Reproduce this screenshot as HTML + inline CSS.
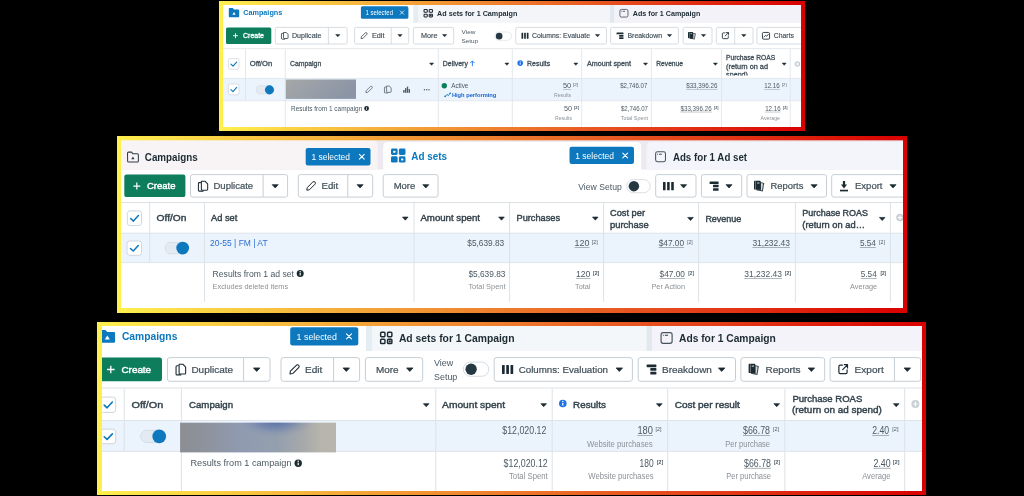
<!DOCTYPE html>
<html><head><meta charset="utf-8"><title>Ads Manager results</title>
<style>html,body{margin:0;padding:0;background:#000;overflow:hidden}svg{display:block;font-family:"Liberation Sans",sans-serif}</style></head>
<body>
<svg width="1024" height="496" viewBox="0 0 1024 496">
<defs>
<linearGradient id="g1" gradientUnits="userSpaceOnUse" x1="219" y1="0" x2="805" y2="0"><stop offset="0" stop-color="#fff04e"/><stop offset="0.25" stop-color="#f6b43c"/><stop offset="0.5" stop-color="#ee7a2c"/><stop offset="0.75" stop-color="#e33c18"/><stop offset="1" stop-color="#d90000"/></linearGradient>
<linearGradient id="g2" gradientUnits="userSpaceOnUse" x1="117" y1="0" x2="907" y2="0"><stop offset="0" stop-color="#fff04e"/><stop offset="0.25" stop-color="#f6b43c"/><stop offset="0.5" stop-color="#ee7a2c"/><stop offset="0.75" stop-color="#e33c18"/><stop offset="1" stop-color="#d90000"/></linearGradient>
<linearGradient id="g3" gradientUnits="userSpaceOnUse" x1="97" y1="0" x2="926" y2="0"><stop offset="0" stop-color="#fff04e"/><stop offset="0.25" stop-color="#f6b43c"/><stop offset="0.5" stop-color="#ee7a2c"/><stop offset="0.75" stop-color="#e33c18"/><stop offset="1" stop-color="#d90000"/></linearGradient>
<linearGradient id="blur1" x1="0" y1="0" x2="1" y2="0.35"><stop offset="0" stop-color="#a8a9a5"/><stop offset="0.2" stop-color="#a0a4a8"/><stop offset="0.55" stop-color="#979ea8"/><stop offset="1" stop-color="#8c95a5"/></linearGradient>
<linearGradient id="blur3" x1="0" y1="0" x2="1" y2="0"><stop offset="0" stop-color="#8b8e93"/><stop offset="0.15" stop-color="#8d939c"/><stop offset="0.4" stop-color="#909bb1"/><stop offset="0.62" stop-color="#949fae"/><stop offset="0.8" stop-color="#a8aaaa"/><stop offset="0.9" stop-color="#b6b4ac"/><stop offset="1" stop-color="#b8b5ac"/></linearGradient>
<radialGradient id="blur3v" gradientUnits="userSpaceOnUse" cx="276" cy="420" r="40" gradientTransform="translate(0 420) scale(1 0.45) translate(0 -420)"><stop offset="0" stop-color="#4861a4" stop-opacity="0.85"/><stop offset="0.5" stop-color="#5f76ae" stop-opacity="0.5"/><stop offset="1" stop-color="#8f9bb1" stop-opacity="0"/></radialGradient>
<clipPath id="c1"><rect x="223" y="5" width="578" height="122"/></clipPath>
<clipPath id="c2"><rect x="121" y="140.5" width="782" height="167.5"/></clipPath>
<clipPath id="c3"><rect x="102" y="326" width="820" height="165"/></clipPath>
<filter id="soft" x="-2%" y="-2%" width="104%" height="104%"><feGaussianBlur stdDeviation="0.35"/></filter>
</defs>
<rect width="1024" height="496" fill="#000"/>
<rect x="219" y="1" width="586" height="130" fill="url(#g1)"/>
<rect x="223" y="5" width="578" height="122" fill="#fff"/>
<g clip-path="url(#c1)"><g filter="url(#soft)">
<rect x="223.00" y="5.00" width="578.00" height="17.80" fill="#f3f5f8" />
<rect x="223.00" y="5.00" width="190.40" height="17.80" fill="#fff" />
<rect x="413.40" y="5.00" width="4.80" height="17.80" fill="#e4edf2" />
<rect x="610.00" y="5.00" width="4.30" height="17.80" fill="#e3e8ef" />
<rect x="614.30" y="5.00" width="186.70" height="17.80" fill="#f3f2f8" />
<path d="M229.63 7.90h3.12l1.25 1.49h4.37q0.83 0 0.83 0.93v5.95q0 0.93 -0.83 0.93h-8.74q-0.83 0 -0.83 -0.93v-7.44q0 -0.93 0.83 -0.93z" fill="#0a78be"/>
<path d="M234.00 11.90L235.66 14.78H232.34Z" fill="#fff"/>
<text x="243.20" y="15.19" font-size="7.2" fill="#0a78be" font-weight="bold" textLength="39.10" lengthAdjust="spacingAndGlyphs">Campaigns</text>
<rect x="360.90" y="6.30" width="47.50" height="12.50" fill="#0a78be" rx="1.6" />
<text x="365.50" y="14.84" font-size="6.6" fill="#fff" textLength="27.50" lengthAdjust="spacingAndGlyphs">1 selected</text>
<path d="M400.30 10.90L403.70 14.30M403.70 10.90L400.30 14.30" stroke="#fff" stroke-width="0.8" stroke-linecap="round"/>
<rect x="424.05" y="9.55" width="3.23" height="2.73" rx="0.61" fill="none" stroke="#1c2b33" stroke-width="1.09"/>
<rect x="424.05" y="14.22" width="3.23" height="2.73" rx="0.61" fill="none" stroke="#1c2b33" stroke-width="1.09"/>
<rect x="429.22" y="9.55" width="3.23" height="2.73" rx="0.61" fill="none" stroke="#1c2b33" stroke-width="1.09"/>
<rect x="429.22" y="14.22" width="3.23" height="2.73" rx="0.61" fill="none" stroke="#1c2b33" stroke-width="1.09"/>
<rect x="430.06" y="14.90" width="1.56" height="1.38" fill="#1c2b33"/>
<text x="437.10" y="15.89" font-size="7.2" fill="#1c2b33" font-weight="bold" textLength="80.30" lengthAdjust="spacingAndGlyphs">Ad sets for 1 Campaign</text>
<rect x="619.92" y="9.42" width="8.05" height="7.65" rx="1.51" fill="none" stroke="#46535c" stroke-width="0.85"/>
<line x1="621.19" y1="11.29" x2="621.90" y2="11.29" stroke="#46535c" stroke-width="0.85"/>
<line x1="622.70" y1="11.29" x2="625.02" y2="11.29" stroke="#46535c" stroke-width="0.85"/>
<text x="632.80" y="15.89" font-size="7.2" fill="#1c2b33" font-weight="bold" textLength="67.50" lengthAdjust="spacingAndGlyphs">Ads for 1 Campaign</text>
<rect x="226.00" y="27.40" width="45.30" height="16.60" fill="#0b7d5c" rx="1.6" />
<path d="M233 35.7h5M235.5 33.2v5" stroke="#fff" stroke-width="0.9"/>
<text x="243.00" y="38.11" font-size="6.7" fill="#fff" stroke="#fff" stroke-width="0.30" textLength="21.00" lengthAdjust="spacingAndGlyphs">Create</text>
<rect x="275.30" y="27.40" width="71.80" height="16.60" fill="#fff" rx="1.6" stroke="#c6ced4" stroke-width="0.7" />
<line x1="328.40" y1="27.40" x2="328.40" y2="44.00" stroke="#c6ced4" stroke-width="0.7"/>
<path d="M283.55 32.46h2.70l1.80 1.82v3.65q0 0.61 -0.60 0.61h-3.30q-0.60 0 -0.60 -0.61z" fill="none" stroke="#1c2b33" stroke-width="0.75" stroke-linejoin="round"/>
<path d="M282.95 33.37h-0.90q-0.60 0 -0.60 0.61v4.56q0 0.61 0.60 0.61h2.70" fill="none" stroke="#1c2b33" stroke-width="0.75" stroke-linejoin="round" stroke-linecap="round"/>
<text x="292.00" y="38.11" font-size="6.7" fill="#414f58" stroke="#414f58" stroke-width="0.15" textLength="29.50" lengthAdjust="spacingAndGlyphs">Duplicate</text>
<path d="M335.70 34.55H339.90L337.80 36.85Z" fill="#1c2b33" stroke="#1c2b33" stroke-width="0.50" stroke-linejoin="round"/>
<rect x="354.60" y="27.40" width="54.10" height="16.60" fill="#fff" rx="1.6" stroke="#c6ced4" stroke-width="0.7" />
<line x1="391.20" y1="27.40" x2="391.20" y2="44.00" stroke="#c6ced4" stroke-width="0.7"/>
<path d="M361.06 38.64L361.34 36.82L365.26 32.90Q366.10 32.20 366.94 33.04Q367.50 33.74 366.80 34.44L362.88 38.36Z" fill="none" stroke="#1c2b33" stroke-width="0.70" stroke-linejoin="round"/>
<text x="372.00" y="38.11" font-size="6.7" fill="#414f58" stroke="#414f58" stroke-width="0.15" textLength="12.50" lengthAdjust="spacingAndGlyphs">Edit</text>
<path d="M397.90 34.55H402.10L400.00 36.85Z" fill="#1c2b33" stroke="#1c2b33" stroke-width="0.50" stroke-linejoin="round"/>
<rect x="413.40" y="27.40" width="40.30" height="16.60" fill="#fff" rx="1.6" stroke="#c6ced4" stroke-width="0.7" />
<text x="421.00" y="38.11" font-size="6.7" fill="#414f58" stroke="#414f58" stroke-width="0.15" textLength="16.50" lengthAdjust="spacingAndGlyphs">More</text>
<path d="M442.50 34.55H446.70L444.60 36.85Z" fill="#1c2b33" stroke="#1c2b33" stroke-width="0.50" stroke-linejoin="round"/>
<text x="461.50" y="33.53" font-size="6.2" fill="#4b5a63" textLength="14.00" lengthAdjust="spacingAndGlyphs">View</text>
<text x="461.50" y="42.63" font-size="6.2" fill="#4b5a63" textLength="16.50" lengthAdjust="spacingAndGlyphs">Setup</text>
<rect x="494.60" y="32.00" width="16.90" height="8.30" fill="#fff" rx="4.149999999999999" stroke="#d5dce2" stroke-width="0.6" />
<circle cx="499.17" cy="36.15" r="3.32" fill="#283943"/>
<rect x="515.70" y="27.40" width="90.80" height="16.60" fill="#fff" rx="1.6" stroke="#c6ced4" stroke-width="0.7" />
<rect x="521.50" y="32.80" width="1.68" height="6.00" rx="0.25" fill="#1c2b33"/>
<rect x="524.16" y="32.80" width="1.68" height="6.00" rx="0.25" fill="#1c2b33"/>
<rect x="526.82" y="32.80" width="1.68" height="6.00" rx="0.25" fill="#1c2b33"/>
<text x="532.00" y="38.11" font-size="6.7" fill="#414f58" stroke="#414f58" stroke-width="0.15" textLength="58.00" lengthAdjust="spacingAndGlyphs">Columns: Evaluate</text>
<path d="M595.40 34.55H599.60L597.50 36.85Z" fill="#1c2b33" stroke="#1c2b33" stroke-width="0.50" stroke-linejoin="round"/>
<rect x="610.60" y="27.40" width="67.80" height="16.60" fill="#fff" rx="1.6" stroke="#c6ced4" stroke-width="0.7" />
<rect x="616.50" y="32.60" width="7.00" height="1.73" rx="0.35" fill="#1c2b33"/>
<rect x="619.16" y="34.94" width="4.34" height="1.73" rx="0.35" fill="#1c2b33"/>
<rect x="619.16" y="37.27" width="4.34" height="1.73" rx="0.35" fill="#1c2b33"/>
<text x="627.50" y="38.11" font-size="6.7" fill="#414f58" stroke="#414f58" stroke-width="0.15" textLength="34.50" lengthAdjust="spacingAndGlyphs">Breakdown</text>
<path d="M667.40 34.55H671.60L669.50 36.85Z" fill="#1c2b33" stroke="#1c2b33" stroke-width="0.50" stroke-linejoin="round"/>
<rect x="683.10" y="27.40" width="28.90" height="16.60" fill="#fff" rx="1.6" stroke="#c6ced4" stroke-width="0.7" />
<path d="M692.00 32.76L695.84 33.52L694.72 39.60L689.60 38.69Z" fill="#1c2b33" opacity="0.85"/>
<path d="M693.28 33.67L694.88 33.98L694.08 38.69L693.28 38.54Z" fill="#fff" opacity="0.8"/>
<rect x="688.00" y="32.00" width="5.12" height="6.23" rx="0.64" fill="#1c2b33"/>
<rect x="689.04" y="32.30" width="0.44" height="5.62" fill="#fff" opacity="0.6"/>
<rect x="690.40" y="33.06" width="1.76" height="1.06" fill="#fff" opacity="0.55"/>
<path d="M701.40 34.55H705.60L703.50 36.85Z" fill="#1c2b33" stroke="#1c2b33" stroke-width="0.50" stroke-linejoin="round"/>
<rect x="716.30" y="27.40" width="36.70" height="16.60" fill="#fff" rx="1.6" stroke="#c6ced4" stroke-width="0.7" />
<line x1="734.70" y1="27.40" x2="734.70" y2="44.00" stroke="#c6ced4" stroke-width="0.7"/>
<path d="M724.97 32.90H723.24q-0.86 0 -0.86 0.84v4.06q0 0.84 0.86 0.84h4.18q0.86 0 0.86 -0.84V36.12" fill="none" stroke="#1c2b33" stroke-width="0.86" stroke-linecap="round"/>
<path d="M725.11 35.98L728.42 32.76M726.26 32.62H728.57V34.86" fill="none" stroke="#1c2b33" stroke-width="0.86" stroke-linecap="round" stroke-linejoin="round"/>
<path d="M741.70 34.55H745.90L743.80 36.85Z" fill="#1c2b33" stroke="#1c2b33" stroke-width="0.50" stroke-linejoin="round"/>
<rect x="756.90" y="27.40" width="55.10" height="16.60" fill="#fff" rx="1.6" stroke="#c6ced4" stroke-width="0.7" />
<rect x="762.44" y="32.44" width="7.12" height="6.72" rx="1.12" fill="none" stroke="#1c2b33" stroke-width="0.88"/>
<path d="M763.92 37.02L765.52 35.34L766.64 36.26L768.24 34.43" fill="none" stroke="#1c2b33" stroke-width="0.88" stroke-linecap="round" stroke-linejoin="round"/>
<text x="773.80" y="38.11" font-size="6.7" fill="#414f58" stroke="#414f58" stroke-width="0.15" textLength="20.20" lengthAdjust="spacingAndGlyphs">Charts</text>
<line x1="223.00" y1="48.60" x2="801.00" y2="48.60" stroke="#dde2e6" stroke-width="0.8"/>
<rect x="223.00" y="78.40" width="578.00" height="22.40" fill="#ebf3fd" />
<line x1="223.00" y1="78.40" x2="801.00" y2="78.40" stroke="#dde2e6" stroke-width="0.7"/>
<line x1="223.00" y1="100.80" x2="801.00" y2="100.80" stroke="#dde2e6" stroke-width="0.7"/>
<line x1="245.50" y1="49.00" x2="245.50" y2="100.80" stroke="#dde2e6" stroke-width="0.8"/>
<line x1="285.30" y1="49.00" x2="285.30" y2="127.00" stroke="#dde2e6" stroke-width="0.8"/>
<line x1="438.30" y1="49.00" x2="438.30" y2="127.00" stroke="#dde2e6" stroke-width="0.8"/>
<line x1="512.30" y1="49.00" x2="512.30" y2="127.00" stroke="#dde2e6" stroke-width="0.8"/>
<line x1="581.70" y1="49.00" x2="581.70" y2="127.00" stroke="#dde2e6" stroke-width="0.8"/>
<line x1="651.40" y1="49.00" x2="651.40" y2="127.00" stroke="#dde2e6" stroke-width="0.8"/>
<line x1="721.60" y1="49.00" x2="721.60" y2="127.00" stroke="#dde2e6" stroke-width="0.8"/>
<line x1="790.20" y1="49.00" x2="790.20" y2="127.00" stroke="#dde2e6" stroke-width="0.8"/>
<rect x="228.40" y="58.60" width="10.60" height="10.70" fill="#fff" rx="1.9079999999999988" stroke="#ccd4da" stroke-width="0.6889999999999996" />
<path d="M230.94 64.16L232.96 66.09L236.67 62.02" fill="none" stroke="#0a78be" stroke-width="1.11" stroke-linecap="round" stroke-linejoin="round"/>
<text x="249.80" y="66.30" font-size="6.95" fill="#414f58" stroke="#414f58" stroke-width="0.31" textLength="22.40" lengthAdjust="spacingAndGlyphs">Off/On</text>
<text x="290.10" y="66.30" font-size="6.95" fill="#414f58" stroke="#414f58" stroke-width="0.31" textLength="31.10" lengthAdjust="spacingAndGlyphs">Campaign</text>
<path d="M429.60 63.05H433.60L431.60 65.35Z" fill="#1c2b33" stroke="#1c2b33" stroke-width="0.48" stroke-linejoin="round"/>
<text x="442.80" y="66.30" font-size="6.95" fill="#414f58" stroke="#414f58" stroke-width="0.31" textLength="25.10" lengthAdjust="spacingAndGlyphs">Delivery</text>
<path d="M472.4 66.2V61M470.3 63.1L472.4 60.9L474.5 63.1" fill="none" stroke="#1877f2" stroke-width="0.9"/>
<path d="M504.90 63.05H508.90L506.90 65.35Z" fill="#1c2b33" stroke="#1c2b33" stroke-width="0.48" stroke-linejoin="round"/>
<circle cx="520.20" cy="63.10" r="2.80" fill="#1a73e8"/>
<rect x="519.75" y="62.68" width="0.90" height="1.96" fill="#fff"/>
<circle cx="520.20" cy="61.70" r="0.56" fill="#fff"/>
<text x="527.10" y="66.30" font-size="6.95" fill="#414f58" stroke="#414f58" stroke-width="0.31" textLength="23.10" lengthAdjust="spacingAndGlyphs">Results</text>
<path d="M573.80 63.05H577.80L575.80 65.35Z" fill="#1c2b33" stroke="#1c2b33" stroke-width="0.48" stroke-linejoin="round"/>
<text x="587.00" y="66.30" font-size="6.95" fill="#414f58" stroke="#414f58" stroke-width="0.31" textLength="44.00" lengthAdjust="spacingAndGlyphs">Amount spent</text>
<path d="M643.50 63.05H647.50L645.50 65.35Z" fill="#1c2b33" stroke="#1c2b33" stroke-width="0.48" stroke-linejoin="round"/>
<text x="656.30" y="66.30" font-size="6.95" fill="#414f58" stroke="#414f58" stroke-width="0.31" textLength="26.70" lengthAdjust="spacingAndGlyphs">Revenue</text>
<path d="M713.40 63.05H717.40L715.40 65.35Z" fill="#1c2b33" stroke="#1c2b33" stroke-width="0.48" stroke-linejoin="round"/>
<text x="726.10" y="60.20" font-size="6.95" fill="#414f58" stroke="#414f58" stroke-width="0.31" textLength="49.00" lengthAdjust="spacingAndGlyphs">Purchase ROAS</text>
<text x="726.10" y="68.60" font-size="6.95" fill="#414f58" stroke="#414f58" stroke-width="0.31" textLength="41.90" lengthAdjust="spacingAndGlyphs">(return on ad</text>
<clipPath id="c1h"><rect x="722" y="49" width="68" height="26.6"/></clipPath><g clip-path="url(#c1h)">
<text x="726.10" y="77.30" font-size="6.95" fill="#414f58" stroke="#414f58" stroke-width="0.31" textLength="21.90" lengthAdjust="spacingAndGlyphs">spend)</text>
</g>
<path d="M782.20 63.05H786.20L784.20 65.35Z" fill="#1c2b33" stroke="#1c2b33" stroke-width="0.48" stroke-linejoin="round"/>
<circle cx="797.40" cy="64.00" r="2.80" fill="#c9cfd4"/>
<path d="M795.86 64.00H798.94M797.40 62.46V65.54" stroke="#fff" stroke-width="0.84"/>
<rect x="228.40" y="84.00" width="10.60" height="10.80" fill="#fff" rx="1.9079999999999988" stroke="#ccd4da" stroke-width="0.6889999999999996" />
<path d="M230.94 89.62L232.96 91.56L236.67 87.46" fill="none" stroke="#0a78be" stroke-width="1.11" stroke-linecap="round" stroke-linejoin="round"/>
<rect x="256.20" y="85.75" width="17.80" height="8.19" fill="#e3eaf1" rx="4.095000000000004" stroke="#ccd6de" stroke-width="0.5" />
<circle cx="269.45" cy="89.85" r="4.55" fill="#0a78be"/>
<rect x="285.80" y="79.50" width="70.20" height="19.40" fill="url(#blur1)" />
<path d="M365.89 92.61L366.19 90.68L370.33 86.54Q371.22 85.80 372.11 86.69Q372.70 87.43 371.96 88.17L367.82 92.31Z" fill="none" stroke="#4b5a63" stroke-width="0.74" stroke-linejoin="round"/>
<path d="M386.58 86.07h2.74l1.82 1.87v3.74q0 0.62 -0.61 0.62h-3.34q-0.61 0 -0.61 -0.62z" fill="none" stroke="#4b5a63" stroke-width="0.76" stroke-linejoin="round"/>
<path d="M385.98 87.00h-0.91q-0.61 0 -0.61 0.62v4.68q0 0.62 0.61 0.62h2.74" fill="none" stroke="#4b5a63" stroke-width="0.76" stroke-linejoin="round" stroke-linecap="round"/>
<rect x="403.20" y="90.01" width="1.36" height="2.79" fill="#4b5a63"/>
<rect x="405.01" y="88.15" width="1.36" height="4.65" fill="#4b5a63"/>
<rect x="406.83" y="86.60" width="1.36" height="6.20" fill="#4b5a63"/>
<rect x="408.64" y="89.08" width="1.36" height="3.72" fill="#4b5a63"/>
<circle cx="424.40" cy="89.80" r="0.70" fill="#4b5a63"/>
<circle cx="426.70" cy="89.80" r="0.70" fill="#4b5a63"/>
<circle cx="429.00" cy="89.80" r="0.70" fill="#4b5a63"/>
<circle cx="444.30" cy="85.80" r="2.70" fill="#0b7d5c"/>
<text x="451.20" y="88.19" font-size="7.25" fill="#4b5a63" textLength="17.20" lengthAdjust="spacingAndGlyphs">Active</text>
<path d="M445.2 96.4L447 94.4L448.4 95.6L450.2 93.2" fill="none" stroke="#0a78be" stroke-width="0.9" stroke-linecap="round" stroke-linejoin="round"/>
<circle cx="445.20" cy="96.40" r="0.80" fill="#0a78be"/>
<circle cx="450.20" cy="93.20" r="0.80" fill="#0a78be"/>
<text x="451.90" y="96.93" font-size="5.8" fill="#1763cf" font-weight="bold" textLength="44.40" lengthAdjust="spacingAndGlyphs">High performing</text>
<text x="563.00" y="88.19" font-size="7.25" fill="#4b5a63" textLength="8.20" lengthAdjust="spacingAndGlyphs">50</text>
<line x1="563.00" y1="89.35" x2="571.20" y2="89.35" stroke="#4b5a63" stroke-width="0.47" opacity="0.72"/>
<text x="573.00" y="86.41" font-size="4.2" fill="#4b5a63" textLength="5.00" lengthAdjust="spacingAndGlyphs">[2]</text>
<text x="554.00" y="96.93" font-size="5.8" fill="#8b9196" textLength="17.20" lengthAdjust="spacingAndGlyphs">Results</text>
<text x="620.20" y="88.19" font-size="7.25" fill="#4b5a63" textLength="27.10" lengthAdjust="spacingAndGlyphs">$2,746.07</text>
<text x="686.20" y="88.19" font-size="7.25" fill="#4b5a63" textLength="31.20" lengthAdjust="spacingAndGlyphs">$33,396.26</text>
<line x1="686.20" y1="89.35" x2="717.40" y2="89.35" stroke="#4b5a63" stroke-width="0.47" opacity="0.72"/>
<text x="764.20" y="88.19" font-size="7.25" fill="#4b5a63" textLength="15.50" lengthAdjust="spacingAndGlyphs">12.16</text>
<line x1="764.20" y1="89.35" x2="779.70" y2="89.35" stroke="#4b5a63" stroke-width="0.47" opacity="0.72"/>
<text x="782.00" y="86.41" font-size="4.2" fill="#4b5a63" textLength="4.50" lengthAdjust="spacingAndGlyphs">[2]</text>
<text x="291.00" y="110.74" font-size="6.6" fill="#4b5a63" textLength="71.30" lengthAdjust="spacingAndGlyphs">Results from 1 campaign</text>
<circle cx="366.60" cy="108.50" r="2.40" fill="#1c2b33"/>
<rect x="366.22" y="108.14" width="0.77" height="1.68" fill="#fff"/>
<circle cx="366.60" cy="107.30" r="0.48" fill="#fff"/>
<text x="564.00" y="110.89" font-size="7.25" fill="#4b5a63" textLength="8.00" lengthAdjust="spacingAndGlyphs">50</text>
<text x="574.00" y="109.11" font-size="4.2" fill="#4b5a63" font-weight="bold" textLength="5.00" lengthAdjust="spacingAndGlyphs">[2]</text>
<text x="555.00" y="119.63" font-size="5.8" fill="#8b9196" textLength="17.00" lengthAdjust="spacingAndGlyphs">Results</text>
<text x="621.00" y="110.89" font-size="7.25" fill="#4b5a63" textLength="27.00" lengthAdjust="spacingAndGlyphs">$2,746.07</text>
<text x="620.80" y="119.63" font-size="5.8" fill="#8b9196" textLength="27.20" lengthAdjust="spacingAndGlyphs">Total Spent</text>
<text x="680.50" y="110.89" font-size="7.25" fill="#4b5a63" textLength="31.10" lengthAdjust="spacingAndGlyphs">$33,396.26</text>
<line x1="680.50" y1="112.05" x2="711.60" y2="112.05" stroke="#4b5a63" stroke-width="0.47" opacity="0.72"/>
<text x="714.00" y="109.11" font-size="4.2" fill="#4b5a63" font-weight="bold" textLength="4.50" lengthAdjust="spacingAndGlyphs">[2]</text>
<text x="765.20" y="110.89" font-size="7.25" fill="#4b5a63" textLength="15.40" lengthAdjust="spacingAndGlyphs">12.16</text>
<line x1="765.20" y1="112.05" x2="780.60" y2="112.05" stroke="#4b5a63" stroke-width="0.47" opacity="0.72"/>
<text x="783.00" y="109.11" font-size="4.2" fill="#4b5a63" font-weight="bold" textLength="4.50" lengthAdjust="spacingAndGlyphs">[2]</text>
<text x="760.50" y="119.63" font-size="5.8" fill="#8b9196" textLength="19.50" lengthAdjust="spacingAndGlyphs">Average</text>
</g></g>
<rect x="117" y="136" width="790" height="177" fill="url(#g2)"/>
<rect x="121" y="140.5" width="782" height="167.5" fill="#fff"/>
<g clip-path="url(#c2)"><g filter="url(#soft)">
<rect x="121.00" y="140.50" width="782.00" height="29.00" fill="#ece9f0" />
<path d="M121 140.5H372.7Q377.7 140.5 377.7 145.5V169.5H121Z" fill="#f8f4f5"/>
<path d="M383.2 169.5V147Q383.2 142 388.2 142H636.2Q641.2 142 641.2 147V171H383.2Z" fill="#fff"/>
<path d="M646.6 169.5V147Q646.6 142 651.6 142H903V169.5Z" fill="#f4f5fa"/>
<path d="M127.52 153.14q0 -1.03 0.94 -1.03h3.07l1.18 1.54h4.72q0.94 0 0.94 1.03v6.39q0 1.03 -0.94 1.03h-8.87q-0.94 0 -0.94 -1.03z" fill="none" stroke="#2f3d46" stroke-width="1.04" stroke-linejoin="round"/>
<path d="M132.90 156.53L134.55 159.32H131.25Z" fill="#2f3d46"/>
<text x="144.80" y="161.30" font-size="10.0" fill="#1c2b33" font-weight="bold" textLength="53.00" lengthAdjust="spacingAndGlyphs">Campaigns</text>
<rect x="305.70" y="148.00" width="64.80" height="17.50" fill="#0a78be" rx="2.2" />
<text x="311.50" y="159.89" font-size="9.1" fill="#fff" textLength="38.50" lengthAdjust="spacingAndGlyphs">1 selected</text>
<path d="M359.40 154.40L364.20 159.20M364.20 154.40L359.40 159.20" stroke="#fff" stroke-width="1.1" stroke-linecap="round"/>
<rect x="391.00" y="148.60" width="6.60" height="6.35" rx="1.45" fill="#0a78be"/>
<rect x="393.24" y="150.76" width="2.11" height="2.03" rx="0.40" fill="#fff"/>
<rect x="391.00" y="156.25" width="6.60" height="6.35" rx="1.45" fill="#0a78be"/>
<rect x="398.90" y="148.60" width="6.60" height="6.35" rx="1.45" fill="#0a78be"/>
<rect x="398.90" y="156.25" width="6.60" height="6.35" rx="1.45" fill="#0a78be"/>
<rect x="401.15" y="158.41" width="2.11" height="2.03" rx="0.40" fill="#fff"/>
<text x="411.30" y="159.80" font-size="10.0" fill="#0a78be" font-weight="bold" textLength="35.70" lengthAdjust="spacingAndGlyphs">Ad sets</text>
<rect x="569.50" y="146.80" width="64.50" height="17.20" fill="#0a78be" rx="2.2" />
<text x="575.30" y="158.59" font-size="9.1" fill="#fff" textLength="38.70" lengthAdjust="spacingAndGlyphs">1 selected</text>
<path d="M622.80 153.10L627.60 157.90M627.60 153.10L622.80 157.90" stroke="#fff" stroke-width="1.1" stroke-linecap="round"/>
<rect x="655.62" y="151.82" width="9.86" height="9.86" rx="1.85" fill="none" stroke="#46535c" stroke-width="1.04"/>
<line x1="657.17" y1="154.24" x2="658.04" y2="154.24" stroke="#46535c" stroke-width="1.04"/>
<line x1="659.02" y1="154.24" x2="661.86" y2="154.24" stroke="#46535c" stroke-width="1.04"/>
<text x="672.90" y="160.90" font-size="10.0" fill="#1c2b33" font-weight="bold" textLength="74.20" lengthAdjust="spacingAndGlyphs">Ads for 1 Ad set</text>
<rect x="124.30" y="174.60" width="61.10" height="22.50" fill="#0b7d5c" rx="2.2" />
<path d="M133.3 186.1h7M136.8 182.6v7" stroke="#fff" stroke-width="1.2"/>
<text x="147.00" y="189.38" font-size="9.1" fill="#fff" stroke="#fff" stroke-width="0.41" textLength="28.40" lengthAdjust="spacingAndGlyphs">Create</text>
<rect x="190.50" y="174.60" width="97.10" height="22.50" fill="#fff" rx="2.2" stroke="#c6ced4" stroke-width="1" />
<line x1="263.10" y1="174.60" x2="263.10" y2="197.10" stroke="#c6ced4" stroke-width="1"/>
<path d="M201.37 181.27h3.78l2.52 2.69v5.38q0 0.90 -0.84 0.90h-4.62q-0.84 0 -0.84 -0.90z" fill="none" stroke="#1c2b33" stroke-width="1.05" stroke-linejoin="round"/>
<path d="M200.53 182.62h-1.26q-0.84 0 -0.84 0.90v6.72q0 0.90 0.84 0.90h3.78" fill="none" stroke="#1c2b33" stroke-width="1.05" stroke-linejoin="round" stroke-linecap="round"/>
<text x="213.50" y="189.38" font-size="9.1" fill="#414f58" stroke="#414f58" stroke-width="0.20" textLength="39.60" lengthAdjust="spacingAndGlyphs">Duplicate</text>
<path d="M272.20 184.65H278.20L275.20 187.95Z" fill="#1c2b33" stroke="#1c2b33" stroke-width="0.72" stroke-linejoin="round"/>
<rect x="298.30" y="174.60" width="74.40" height="22.50" fill="#fff" rx="2.2" stroke="#c6ced4" stroke-width="1" />
<line x1="347.80" y1="174.60" x2="347.80" y2="197.10" stroke="#c6ced4" stroke-width="1"/>
<path d="M306.80 190.20L307.20 187.60L312.80 182.00Q314.00 181.00 315.20 182.20Q316.00 183.20 315.00 184.20L309.40 189.80Z" fill="none" stroke="#1c2b33" stroke-width="1.00" stroke-linejoin="round"/>
<text x="321.50" y="189.38" font-size="9.1" fill="#414f58" stroke="#414f58" stroke-width="0.20" textLength="16.70" lengthAdjust="spacingAndGlyphs">Edit</text>
<path d="M357.10 184.65H363.10L360.10 187.95Z" fill="#1c2b33" stroke="#1c2b33" stroke-width="0.72" stroke-linejoin="round"/>
<rect x="383.20" y="174.60" width="54.80" height="22.50" fill="#fff" rx="2.2" stroke="#c6ced4" stroke-width="1" />
<text x="393.70" y="189.38" font-size="9.1" fill="#414f58" stroke="#414f58" stroke-width="0.20" textLength="21.60" lengthAdjust="spacingAndGlyphs">More</text>
<path d="M422.80 184.65H428.80L425.80 187.95Z" fill="#1c2b33" stroke="#1c2b33" stroke-width="0.72" stroke-linejoin="round"/>
<text x="578.20" y="189.50" font-size="8.6" fill="#4b5a63" textLength="43.60" lengthAdjust="spacingAndGlyphs">View Setup</text>
<rect x="626.70" y="179.60" width="23.50" height="13.10" fill="#fff" rx="6.549999999999997" stroke="#d5dce2" stroke-width="0.9169999999999997" />
<circle cx="633.90" cy="186.15" r="5.24" fill="#283943"/>
<rect x="655.70" y="174.60" width="40.30" height="22.50" fill="#fff" rx="2.2" stroke="#c6ced4" stroke-width="1" />
<rect x="663.00" y="181.90" width="2.59" height="8.40" rx="0.39" fill="#1c2b33"/>
<rect x="667.10" y="181.90" width="2.59" height="8.40" rx="0.39" fill="#1c2b33"/>
<rect x="671.21" y="181.90" width="2.59" height="8.40" rx="0.39" fill="#1c2b33"/>
<path d="M680.60 184.65H686.60L683.60 187.95Z" fill="#1c2b33" stroke="#1c2b33" stroke-width="0.72" stroke-linejoin="round"/>
<rect x="701.40" y="174.60" width="40.30" height="22.50" fill="#fff" rx="2.2" stroke="#c6ced4" stroke-width="1" />
<rect x="709.60" y="181.40" width="9.00" height="2.54" rx="0.51" fill="#1c2b33"/>
<rect x="713.02" y="184.83" width="5.58" height="2.54" rx="0.51" fill="#1c2b33"/>
<rect x="713.02" y="188.26" width="5.58" height="2.54" rx="0.51" fill="#1c2b33"/>
<path d="M726.00 184.65H732.00L729.00 187.95Z" fill="#1c2b33" stroke="#1c2b33" stroke-width="0.72" stroke-linejoin="round"/>
<rect x="747.00" y="174.60" width="79.50" height="22.50" fill="#fff" rx="2.2" stroke="#c6ced4" stroke-width="1" />
<path d="M759.25 181.86L764.29 182.92L762.82 191.40L756.10 190.13Z" fill="#1c2b33" opacity="0.85"/>
<path d="M760.93 183.13L763.03 183.56L761.98 190.13L760.93 189.92Z" fill="#fff" opacity="0.8"/>
<rect x="754.00" y="180.80" width="6.72" height="8.69" rx="0.84" fill="#1c2b33"/>
<rect x="755.37" y="181.22" width="0.58" height="7.84" fill="#fff" opacity="0.6"/>
<rect x="757.15" y="182.28" width="2.31" height="1.48" fill="#fff" opacity="0.55"/>
<text x="770.40" y="189.38" font-size="9.1" fill="#414f58" stroke="#414f58" stroke-width="0.20" textLength="33.00" lengthAdjust="spacingAndGlyphs">Reports</text>
<path d="M811.10 184.65H817.10L814.10 187.95Z" fill="#1c2b33" stroke="#1c2b33" stroke-width="0.72" stroke-linejoin="round"/>
<rect x="831.70" y="174.60" width="83.30" height="22.50" fill="#fff" rx="2.2" stroke="#c6ced4" stroke-width="1" />
<path d="M842.88 181.00h2.24v3.54h1.92L844.00 188.49L840.96 184.54h1.92z" fill="#1c2b33"/>
<rect x="840.00" y="189.74" width="8.00" height="1.66" fill="#1c2b33"/>
<text x="855.00" y="189.38" font-size="9.1" fill="#414f58" stroke="#414f58" stroke-width="0.20" textLength="27.50" lengthAdjust="spacingAndGlyphs">Export</text>
<path d="M890.00 184.65H896.00L893.00 187.95Z" fill="#1c2b33" stroke="#1c2b33" stroke-width="0.72" stroke-linejoin="round"/>
<line x1="121.00" y1="202.50" x2="903.00" y2="202.50" stroke="#dde2e6" stroke-width="1"/>
<rect x="121.00" y="233.20" width="782.00" height="29.40" fill="#ebf3fd" />
<line x1="121.00" y1="233.20" x2="903.00" y2="233.20" stroke="#dde2e6" stroke-width="0.9"/>
<line x1="121.00" y1="262.60" x2="903.00" y2="262.60" stroke="#dde2e6" stroke-width="0.9"/>
<line x1="149.70" y1="203.00" x2="149.70" y2="262.60" stroke="#dde2e6" stroke-width="1"/>
<line x1="204.50" y1="203.00" x2="204.50" y2="302.00" stroke="#dde2e6" stroke-width="1"/>
<line x1="414.00" y1="203.00" x2="414.00" y2="302.00" stroke="#dde2e6" stroke-width="1"/>
<line x1="509.60" y1="203.00" x2="509.60" y2="302.00" stroke="#dde2e6" stroke-width="1"/>
<line x1="603.60" y1="203.00" x2="603.60" y2="302.00" stroke="#dde2e6" stroke-width="1"/>
<line x1="698.60" y1="203.00" x2="698.60" y2="302.00" stroke="#dde2e6" stroke-width="1"/>
<line x1="795.40" y1="203.00" x2="795.40" y2="302.00" stroke="#dde2e6" stroke-width="1"/>
<line x1="890.40" y1="203.00" x2="890.40" y2="302.00" stroke="#dde2e6" stroke-width="1"/>
<rect x="127.30" y="210.90" width="14.20" height="14.60" fill="#fff" rx="2.5560000000000005" stroke="#ccd4da" stroke-width="0.9230000000000003" />
<path d="M130.71 218.49L133.41 221.12L138.38 215.57" fill="none" stroke="#0a78be" stroke-width="1.49" stroke-linecap="round" stroke-linejoin="round"/>
<text x="156.60" y="221.28" font-size="9.4" fill="#35434c" stroke="#35434c" stroke-width="0.42" textLength="29.90" lengthAdjust="spacingAndGlyphs">Off/On</text>
<text x="211.00" y="221.28" font-size="9.4" fill="#35434c" stroke="#35434c" stroke-width="0.42" textLength="26.30" lengthAdjust="spacingAndGlyphs">Ad set</text>
<path d="M402.50 217.05H408.10L405.30 220.15Z" fill="#1c2b33" stroke="#1c2b33" stroke-width="0.67" stroke-linejoin="round"/>
<text x="420.40" y="221.28" font-size="9.4" fill="#35434c" stroke="#35434c" stroke-width="0.42" textLength="59.60" lengthAdjust="spacingAndGlyphs">Amount spent</text>
<path d="M498.70 217.05H504.30L501.50 220.15Z" fill="#1c2b33" stroke="#1c2b33" stroke-width="0.67" stroke-linejoin="round"/>
<text x="516.50" y="221.28" font-size="9.4" fill="#35434c" stroke="#35434c" stroke-width="0.42" textLength="43.60" lengthAdjust="spacingAndGlyphs">Purchases</text>
<path d="M592.50 217.05H598.10L595.30 220.15Z" fill="#1c2b33" stroke="#1c2b33" stroke-width="0.67" stroke-linejoin="round"/>
<text x="610.00" y="215.98" font-size="9.4" fill="#35434c" stroke="#35434c" stroke-width="0.42" textLength="35.00" lengthAdjust="spacingAndGlyphs">Cost per</text>
<text x="610.00" y="227.58" font-size="9.4" fill="#35434c" stroke="#35434c" stroke-width="0.42" textLength="38.70" lengthAdjust="spacingAndGlyphs">purchase</text>
<path d="M687.70 217.45H693.30L690.50 220.55Z" fill="#1c2b33" stroke="#1c2b33" stroke-width="0.67" stroke-linejoin="round"/>
<text x="705.40" y="221.78" font-size="9.4" fill="#35434c" stroke="#35434c" stroke-width="0.42" textLength="35.90" lengthAdjust="spacingAndGlyphs">Revenue</text>
<text x="802.30" y="215.98" font-size="9.4" fill="#35434c" stroke="#35434c" stroke-width="0.42" textLength="65.70" lengthAdjust="spacingAndGlyphs">Purchase ROAS</text>
<text x="802.30" y="227.78" font-size="9.4" fill="#35434c" stroke="#35434c" stroke-width="0.42" textLength="62.70" lengthAdjust="spacingAndGlyphs">(return on ad…</text>
<path d="M879.40 217.45H885.00L882.20 220.55Z" fill="#1c2b33" stroke="#1c2b33" stroke-width="0.67" stroke-linejoin="round"/>
<circle cx="900.00" cy="217.60" r="3.80" fill="#c9cfd4"/>
<path d="M897.91 217.60H902.09M900.00 215.51V219.69" stroke="#fff" stroke-width="1.14"/>
<rect x="127.00" y="241.00" width="14.50" height="14.30" fill="#fff" rx="2.61" stroke="#ccd4da" stroke-width="0.9425" />
<path d="M130.48 248.44L133.24 251.01L138.31 245.58" fill="none" stroke="#0a78be" stroke-width="1.52" stroke-linecap="round" stroke-linejoin="round"/>
<rect x="165.10" y="242.33" width="23.90" height="11.43" fill="#e3eaf1" rx="5.715000000000008" stroke="#ccd6de" stroke-width="0.6350000000000009" />
<circle cx="182.65" cy="248.05" r="6.35" fill="#0a78be"/>
<text x="210.00" y="245.87" font-size="9.9" fill="#2b6fd0" textLength="57.60" lengthAdjust="spacingAndGlyphs">20-55 | FM | AT</text>
<text x="467.30" y="245.87" font-size="9.9" fill="#4b5a63" textLength="36.90" lengthAdjust="spacingAndGlyphs">$5,639.83</text>
<text x="574.60" y="245.87" font-size="9.9" fill="#4b5a63" textLength="14.90" lengthAdjust="spacingAndGlyphs">120</text>
<line x1="574.60" y1="247.45" x2="589.50" y2="247.45" stroke="#4b5a63" stroke-width="0.64" opacity="0.72"/>
<text x="591.70" y="243.61" font-size="5.6" fill="#4b5a63" textLength="6.00" lengthAdjust="spacingAndGlyphs">[2]</text>
<text x="658.70" y="245.87" font-size="9.9" fill="#4b5a63" textLength="25.40" lengthAdjust="spacingAndGlyphs">$47.00</text>
<line x1="658.70" y1="247.45" x2="684.10" y2="247.45" stroke="#4b5a63" stroke-width="0.64" opacity="0.72"/>
<text x="687.20" y="243.61" font-size="5.6" fill="#4b5a63" textLength="5.40" lengthAdjust="spacingAndGlyphs">[2]</text>
<text x="752.40" y="245.87" font-size="9.9" fill="#4b5a63" textLength="37.60" lengthAdjust="spacingAndGlyphs">31,232.43</text>
<line x1="752.40" y1="247.45" x2="790.00" y2="247.45" stroke="#4b5a63" stroke-width="0.64" opacity="0.72"/>
<text x="859.90" y="245.87" font-size="9.9" fill="#4b5a63" textLength="15.90" lengthAdjust="spacingAndGlyphs">5.54</text>
<line x1="859.90" y1="247.45" x2="875.80" y2="247.45" stroke="#4b5a63" stroke-width="0.64" opacity="0.72"/>
<text x="879.10" y="243.61" font-size="5.6" fill="#4b5a63" textLength="5.80" lengthAdjust="spacingAndGlyphs">[2]</text>
<text x="212.60" y="276.69" font-size="9.1" fill="#4b5a63" textLength="81.40" lengthAdjust="spacingAndGlyphs">Results from 1 ad set</text>
<circle cx="300.20" cy="273.50" r="3.50" fill="#1c2b33"/>
<rect x="299.64" y="272.98" width="1.12" height="2.45" fill="#fff"/>
<circle cx="300.20" cy="271.75" r="0.70" fill="#fff"/>
<text x="212.60" y="288.53" font-size="7.8" fill="#8b9196" textLength="75.50" lengthAdjust="spacingAndGlyphs">Excludes deleted items</text>
<text x="468.40" y="276.87" font-size="9.9" fill="#4b5a63" textLength="37.10" lengthAdjust="spacingAndGlyphs">$5,639.83</text>
<text x="468.40" y="288.53" font-size="7.8" fill="#8b9196" textLength="37.10" lengthAdjust="spacingAndGlyphs">Total Spent</text>
<text x="575.90" y="276.87" font-size="9.9" fill="#4b5a63" textLength="14.50" lengthAdjust="spacingAndGlyphs">120</text>
<line x1="575.90" y1="278.45" x2="590.40" y2="278.45" stroke="#4b5a63" stroke-width="0.64" opacity="0.72"/>
<text x="593.00" y="274.61" font-size="5.6" fill="#4b5a63" font-weight="bold" textLength="6.20" lengthAdjust="spacingAndGlyphs">[2]</text>
<text x="575.00" y="288.53" font-size="7.8" fill="#8b9196" textLength="15.40" lengthAdjust="spacingAndGlyphs">Total</text>
<text x="659.60" y="276.87" font-size="9.9" fill="#4b5a63" textLength="25.40" lengthAdjust="spacingAndGlyphs">$47.00</text>
<line x1="659.60" y1="278.45" x2="685.00" y2="278.45" stroke="#4b5a63" stroke-width="0.64" opacity="0.72"/>
<text x="688.30" y="274.61" font-size="5.6" fill="#4b5a63" font-weight="bold" textLength="5.70" lengthAdjust="spacingAndGlyphs">[2]</text>
<text x="651.40" y="288.53" font-size="7.8" fill="#8b9196" textLength="33.60" lengthAdjust="spacingAndGlyphs">Per Action</text>
<text x="744.30" y="276.87" font-size="9.9" fill="#4b5a63" textLength="37.70" lengthAdjust="spacingAndGlyphs">31,232.43</text>
<line x1="744.30" y1="278.45" x2="782.00" y2="278.45" stroke="#4b5a63" stroke-width="0.64" opacity="0.72"/>
<text x="784.70" y="274.61" font-size="5.6" fill="#4b5a63" font-weight="bold" textLength="6.20" lengthAdjust="spacingAndGlyphs">[2]</text>
<text x="860.80" y="276.87" font-size="9.9" fill="#4b5a63" textLength="15.90" lengthAdjust="spacingAndGlyphs">5.54</text>
<line x1="860.80" y1="278.45" x2="876.70" y2="278.45" stroke="#4b5a63" stroke-width="0.64" opacity="0.72"/>
<text x="880.40" y="274.61" font-size="5.6" fill="#4b5a63" font-weight="bold" textLength="5.80" lengthAdjust="spacingAndGlyphs">[2]</text>
<text x="850.10" y="288.53" font-size="7.8" fill="#8b9196" textLength="27.00" lengthAdjust="spacingAndGlyphs">Average</text>
</g></g>
<rect x="97" y="322" width="829" height="173" fill="url(#g3)"/>
<rect x="102" y="326" width="820" height="165" fill="#fff"/>
<g clip-path="url(#c3)"><g filter="url(#soft)">
<rect x="102.00" y="326.00" width="820.00" height="24.90" fill="#f4f7fa" />
<rect x="102.00" y="326.00" width="263.90" height="24.90" fill="#fff" />
<rect x="365.90" y="326.00" width="6.00" height="24.90" fill="#e4edf2" />
<rect x="646.60" y="326.00" width="5.40" height="24.90" fill="#e3e8ef" />
<rect x="652.00" y="326.00" width="270.00" height="24.90" fill="#f4f3f9" />
<path d="M100.75 330.00h4.68l1.87 2.03h6.55q1.25 0 1.25 1.27v8.13q0 1.27 -1.25 1.27h-13.10q-1.25 0 -1.25 -1.27v-10.16q0 -1.27 1.25 -1.27z" fill="#0a78be"/>
<path d="M107.30 335.46L109.80 339.40H104.80Z" fill="#fff"/>
<text x="121.90" y="340.34" font-size="10.1" fill="#0a78be" font-weight="bold" textLength="55.50" lengthAdjust="spacingAndGlyphs">Campaigns</text>
<rect x="290.20" y="327.30" width="68.10" height="18.20" fill="#0a78be" rx="2.3" />
<text x="296.60" y="339.63" font-size="9.5" fill="#fff" textLength="40.30" lengthAdjust="spacingAndGlyphs">1 selected</text>
<path d="M346.50 333.90L351.50 338.90M351.50 333.90L346.50 338.90" stroke="#fff" stroke-width="1.1" stroke-linecap="round"/>
<rect x="380.63" y="332.33" width="4.32" height="4.32" rx="0.81" fill="none" stroke="#1c2b33" stroke-width="1.46"/>
<rect x="380.63" y="339.25" width="4.32" height="4.32" rx="0.81" fill="none" stroke="#1c2b33" stroke-width="1.46"/>
<rect x="387.55" y="332.33" width="4.32" height="4.32" rx="0.81" fill="none" stroke="#1c2b33" stroke-width="1.46"/>
<rect x="387.55" y="339.25" width="4.32" height="4.32" rx="0.81" fill="none" stroke="#1c2b33" stroke-width="1.46"/>
<rect x="388.67" y="340.37" width="2.08" height="2.08" fill="#1c2b33"/>
<text x="398.90" y="342.04" font-size="10.1" fill="#1c2b33" font-weight="bold" textLength="115.60" lengthAdjust="spacingAndGlyphs">Ad sets for 1 Campaign</text>
<rect x="661.08" y="332.68" width="11.04" height="10.64" rx="2.07" fill="none" stroke="#46535c" stroke-width="1.16"/>
<line x1="662.82" y1="335.29" x2="663.79" y2="335.29" stroke="#46535c" stroke-width="1.16"/>
<line x1="664.89" y1="335.29" x2="668.06" y2="335.29" stroke="#46535c" stroke-width="1.16"/>
<text x="679.00" y="342.04" font-size="10.1" fill="#1c2b33" font-weight="bold" textLength="96.80" lengthAdjust="spacingAndGlyphs">Ads for 1 Campaign</text>
<rect x="96.00" y="357.60" width="66.00" height="23.70" fill="#0b7d5c" rx="2.4" />
<path d="M107 369.5h7.6M110.8 365.7v7.6" stroke="#fff" stroke-width="1.3"/>
<text x="121.50" y="372.96" font-size="9.6" fill="#fff" stroke="#fff" stroke-width="0.43" textLength="29.60" lengthAdjust="spacingAndGlyphs">Create</text>
<rect x="167.40" y="357.60" width="102.60" height="23.70" fill="#fff" rx="2.4" stroke="#c6ced4" stroke-width="1" />
<line x1="243.60" y1="357.60" x2="243.60" y2="381.30" stroke="#c6ced4" stroke-width="1"/>
<path d="M179.11 364.32h3.92l2.62 2.88v5.76q0 0.96 -0.87 0.96h-4.80q-0.87 0 -0.87 -0.96z" fill="none" stroke="#1c2b33" stroke-width="1.09" stroke-linejoin="round"/>
<path d="M178.23 365.76h-1.31q-0.87 0 -0.87 0.96v7.20q0 0.96 0.87 0.96h3.92" fill="none" stroke="#1c2b33" stroke-width="1.09" stroke-linejoin="round" stroke-linecap="round"/>
<text x="191.40" y="372.96" font-size="9.6" fill="#414f58" stroke="#414f58" stroke-width="0.21" textLength="41.70" lengthAdjust="spacingAndGlyphs">Duplicate</text>
<path d="M253.50 367.95H259.90L256.70 371.45Z" fill="#1c2b33" stroke="#1c2b33" stroke-width="0.77" stroke-linejoin="round"/>
<rect x="281.00" y="357.60" width="78.60" height="23.70" fill="#fff" rx="2.4" stroke="#c6ced4" stroke-width="1" />
<line x1="333.60" y1="357.60" x2="333.60" y2="381.30" stroke="#c6ced4" stroke-width="1"/>
<path d="M289.95 373.95L290.37 371.20L296.31 365.26Q297.58 364.20 298.85 365.47Q299.70 366.53 298.64 367.59L292.70 373.53Z" fill="none" stroke="#1c2b33" stroke-width="1.06" stroke-linejoin="round"/>
<text x="305.10" y="372.96" font-size="9.6" fill="#414f58" stroke="#414f58" stroke-width="0.21" textLength="17.30" lengthAdjust="spacingAndGlyphs">Edit</text>
<path d="M343.10 367.95H349.50L346.30 371.45Z" fill="#1c2b33" stroke="#1c2b33" stroke-width="0.77" stroke-linejoin="round"/>
<rect x="365.40" y="357.60" width="57.30" height="23.70" fill="#fff" rx="2.4" stroke="#c6ced4" stroke-width="1" />
<text x="375.90" y="372.96" font-size="9.6" fill="#414f58" stroke="#414f58" stroke-width="0.21" textLength="22.70" lengthAdjust="spacingAndGlyphs">More</text>
<path d="M406.60 367.95H413.00L409.80 371.45Z" fill="#1c2b33" stroke="#1c2b33" stroke-width="0.77" stroke-linejoin="round"/>
<text x="434.00" y="366.40" font-size="8.9" fill="#4b5a63" textLength="19.30" lengthAdjust="spacingAndGlyphs">View</text>
<text x="434.00" y="379.50" font-size="8.9" fill="#4b5a63" textLength="23.30" lengthAdjust="spacingAndGlyphs">Setup</text>
<rect x="463.30" y="362.10" width="25.40" height="14.20" fill="#fff" rx="7.099999999999994" stroke="#d5dce2" stroke-width="0.9939999999999993" />
<circle cx="471.11" cy="369.20" r="5.68" fill="#283943"/>
<rect x="494.20" y="357.60" width="138.20" height="23.70" fill="#fff" rx="2.4" stroke="#c6ced4" stroke-width="1" />
<rect x="502.00" y="365.10" width="2.69" height="8.80" rx="0.40" fill="#1c2b33"/>
<rect x="506.26" y="365.10" width="2.69" height="8.80" rx="0.40" fill="#1c2b33"/>
<rect x="510.51" y="365.10" width="2.69" height="8.80" rx="0.40" fill="#1c2b33"/>
<text x="518.70" y="372.96" font-size="9.6" fill="#414f58" stroke="#414f58" stroke-width="0.21" textLength="89.30" lengthAdjust="spacingAndGlyphs">Columns: Evaluation</text>
<path d="M616.10 367.95H622.50L619.30 371.45Z" fill="#1c2b33" stroke="#1c2b33" stroke-width="0.77" stroke-linejoin="round"/>
<rect x="638.20" y="357.60" width="97.30" height="23.70" fill="#fff" rx="2.4" stroke="#c6ced4" stroke-width="1" />
<rect x="646.60" y="364.40" width="9.80" height="2.75" rx="0.55" fill="#1c2b33"/>
<rect x="650.32" y="368.12" width="6.08" height="2.75" rx="0.55" fill="#1c2b33"/>
<rect x="650.32" y="371.85" width="6.08" height="2.75" rx="0.55" fill="#1c2b33"/>
<text x="662.00" y="372.96" font-size="9.6" fill="#414f58" stroke="#414f58" stroke-width="0.21" textLength="49.90" lengthAdjust="spacingAndGlyphs">Breakdown</text>
<path d="M718.50 367.95H724.90L721.70 371.45Z" fill="#1c2b33" stroke="#1c2b33" stroke-width="0.77" stroke-linejoin="round"/>
<rect x="740.90" y="357.60" width="83.80" height="23.70" fill="#fff" rx="2.4" stroke="#c6ced4" stroke-width="1" />
<path d="M753.85 364.92L758.89 366.04L757.42 375.00L750.70 373.66Z" fill="#1c2b33" opacity="0.85"/>
<path d="M755.53 366.26L757.63 366.71L756.58 373.66L755.53 373.43Z" fill="#fff" opacity="0.8"/>
<rect x="748.60" y="363.80" width="6.72" height="9.18" rx="0.84" fill="#1c2b33"/>
<rect x="749.97" y="364.25" width="0.58" height="8.29" fill="#fff" opacity="0.6"/>
<rect x="751.75" y="365.37" width="2.31" height="1.57" fill="#fff" opacity="0.55"/>
<text x="765.50" y="372.96" font-size="9.6" fill="#414f58" stroke="#414f58" stroke-width="0.21" textLength="35.10" lengthAdjust="spacingAndGlyphs">Reports</text>
<path d="M808.20 367.95H814.60L811.40 371.45Z" fill="#1c2b33" stroke="#1c2b33" stroke-width="0.77" stroke-linejoin="round"/>
<rect x="830.10" y="357.60" width="90.60" height="23.70" fill="#fff" rx="2.4" stroke="#c6ced4" stroke-width="1" />
<line x1="894.40" y1="357.60" x2="894.40" y2="381.30" stroke="#c6ced4" stroke-width="1"/>
<path d="M842.50 365.04H840.10q-1.20 0 -1.20 1.25v6.03q0 1.25 1.20 1.25h5.80q1.20 0 1.20 -1.25V369.82" fill="none" stroke="#1c2b33" stroke-width="1.20" stroke-linecap="round"/>
<path d="M842.70 369.62L847.30 364.83M844.30 364.62H847.50V367.95" fill="none" stroke="#1c2b33" stroke-width="1.20" stroke-linecap="round" stroke-linejoin="round"/>
<text x="854.60" y="372.96" font-size="9.6" fill="#414f58" stroke="#414f58" stroke-width="0.21" textLength="29.10" lengthAdjust="spacingAndGlyphs">Export</text>
<path d="M904.10 367.95H910.50L907.30 371.45Z" fill="#1c2b33" stroke="#1c2b33" stroke-width="0.77" stroke-linejoin="round"/>
<line x1="102.00" y1="388.00" x2="922.00" y2="388.00" stroke="#dde2e6" stroke-width="1"/>
<rect x="102.00" y="420.50" width="820.00" height="30.90" fill="#ebf3fd" />
<line x1="102.00" y1="420.50" x2="922.00" y2="420.50" stroke="#dde2e6" stroke-width="0.9"/>
<line x1="102.00" y1="451.40" x2="922.00" y2="451.40" stroke="#dde2e6" stroke-width="0.9"/>
<line x1="124.20" y1="388.50" x2="124.20" y2="451.40" stroke="#dde2e6" stroke-width="1"/>
<line x1="181.40" y1="388.50" x2="181.40" y2="491.00" stroke="#dde2e6" stroke-width="1"/>
<line x1="435.80" y1="388.50" x2="435.80" y2="491.00" stroke="#dde2e6" stroke-width="1"/>
<line x1="552.20" y1="388.50" x2="552.20" y2="491.00" stroke="#dde2e6" stroke-width="1"/>
<line x1="667.70" y1="388.50" x2="667.70" y2="491.00" stroke="#dde2e6" stroke-width="1"/>
<line x1="784.90" y1="388.50" x2="784.90" y2="491.00" stroke="#dde2e6" stroke-width="1"/>
<line x1="904.70" y1="388.50" x2="904.70" y2="491.00" stroke="#dde2e6" stroke-width="1"/>
<rect x="100.60" y="397.10" width="15.10" height="15.30" fill="#fff" rx="2.7180000000000013" stroke="#ccd4da" stroke-width="0.9815000000000006" />
<path d="M104.22 405.06L107.09 407.81L112.38 402.00" fill="none" stroke="#0a78be" stroke-width="1.59" stroke-linecap="round" stroke-linejoin="round"/>
<text x="131.50" y="407.95" font-size="9.85" fill="#35434c" stroke="#35434c" stroke-width="0.44" textLength="31.70" lengthAdjust="spacingAndGlyphs">Off/On</text>
<text x="189.00" y="407.95" font-size="9.85" fill="#35434c" stroke="#35434c" stroke-width="0.44" textLength="44.10" lengthAdjust="spacingAndGlyphs">Campaign</text>
<path d="M423.40 403.65H429.00L426.20 406.75Z" fill="#1c2b33" stroke="#1c2b33" stroke-width="0.67" stroke-linejoin="round"/>
<text x="442.10" y="407.95" font-size="9.85" fill="#35434c" stroke="#35434c" stroke-width="0.44" textLength="63.00" lengthAdjust="spacingAndGlyphs">Amount spent</text>
<path d="M540.90 403.65H546.50L543.70 406.75Z" fill="#1c2b33" stroke="#1c2b33" stroke-width="0.67" stroke-linejoin="round"/>
<circle cx="562.80" cy="403.50" r="3.80" fill="#1a73e8"/>
<rect x="562.19" y="402.93" width="1.22" height="2.66" fill="#fff"/>
<circle cx="562.80" cy="401.60" r="0.76" fill="#fff"/>
<text x="573.10" y="407.95" font-size="9.85" fill="#35434c" stroke="#35434c" stroke-width="0.44" textLength="32.70" lengthAdjust="spacingAndGlyphs">Results</text>
<path d="M656.50 403.65H662.10L659.30 406.75Z" fill="#1c2b33" stroke="#1c2b33" stroke-width="0.67" stroke-linejoin="round"/>
<text x="674.70" y="407.95" font-size="9.85" fill="#35434c" stroke="#35434c" stroke-width="0.44" textLength="65.10" lengthAdjust="spacingAndGlyphs">Cost per result</text>
<path d="M773.90 403.65H779.50L776.70 406.75Z" fill="#1c2b33" stroke="#1c2b33" stroke-width="0.67" stroke-linejoin="round"/>
<text x="792.40" y="402.35" font-size="9.85" fill="#35434c" stroke="#35434c" stroke-width="0.44" textLength="69.90" lengthAdjust="spacingAndGlyphs">Purchase ROAS</text>
<text x="792.00" y="413.35" font-size="9.85" fill="#35434c" stroke="#35434c" stroke-width="0.44" textLength="89.80" lengthAdjust="spacingAndGlyphs">(return on ad spend)</text>
<path d="M893.40 403.65H899.00L896.20 406.75Z" fill="#1c2b33" stroke="#1c2b33" stroke-width="0.67" stroke-linejoin="round"/>
<circle cx="915.40" cy="404.00" r="4.00" fill="#c9cfd4"/>
<path d="M913.20 404.00H917.60M915.40 401.80V406.20" stroke="#fff" stroke-width="1.20"/>
<rect x="100.60" y="429.20" width="15.10" height="14.50" fill="#fff" rx="2.7180000000000013" stroke="#ccd4da" stroke-width="0.9815000000000006" />
<path d="M104.22 436.74L107.09 439.35L112.38 433.84" fill="none" stroke="#0a78be" stroke-width="1.59" stroke-linecap="round" stroke-linejoin="round"/>
<rect x="140.60" y="430.28" width="25.40" height="12.24" fill="#e3eaf1" rx="6.119999999999985" stroke="#ccd6de" stroke-width="0.6799999999999984" />
<circle cx="159.20" cy="436.40" r="6.80" fill="#0a78be"/>
<rect x="180.10" y="422.70" width="155.90" height="29.70" fill="url(#blur3)" />
<rect x="200.00" y="422.70" width="136.00" height="29.70" fill="url(#blur3v)" />
<text x="502.30" y="433.95" font-size="10.45" fill="#4b5a63" textLength="44.10" lengthAdjust="spacingAndGlyphs">$12,020.12</text>
<text x="637.40" y="433.95" font-size="10.45" fill="#4b5a63" textLength="15.50" lengthAdjust="spacingAndGlyphs">180</text>
<line x1="637.40" y1="435.62" x2="652.90" y2="435.62" stroke="#4b5a63" stroke-width="0.68" opacity="0.72"/>
<text x="655.40" y="431.49" font-size="5.8" fill="#4b5a63" textLength="6.00" lengthAdjust="spacingAndGlyphs">[2]</text>
<text x="587.00" y="446.57" font-size="8.2" fill="#8b9196" textLength="65.70" lengthAdjust="spacingAndGlyphs">Website purchases</text>
<text x="743.00" y="433.95" font-size="10.45" fill="#4b5a63" textLength="27.00" lengthAdjust="spacingAndGlyphs">$66.78</text>
<line x1="743.00" y1="435.62" x2="770.00" y2="435.62" stroke="#4b5a63" stroke-width="0.68" opacity="0.72"/>
<text x="773.00" y="431.49" font-size="5.8" fill="#4b5a63" textLength="6.10" lengthAdjust="spacingAndGlyphs">[2]</text>
<text x="725.30" y="446.57" font-size="8.2" fill="#8b9196" textLength="44.70" lengthAdjust="spacingAndGlyphs">Per purchase</text>
<text x="872.20" y="433.95" font-size="10.45" fill="#4b5a63" textLength="16.90" lengthAdjust="spacingAndGlyphs">2.40</text>
<line x1="872.20" y1="435.62" x2="889.10" y2="435.62" stroke="#4b5a63" stroke-width="0.68" opacity="0.72"/>
<text x="892.20" y="431.49" font-size="5.8" fill="#4b5a63" textLength="6.30" lengthAdjust="spacingAndGlyphs">[2]</text>
<text x="190.50" y="466.43" font-size="9.5" fill="#4b5a63" textLength="101.00" lengthAdjust="spacingAndGlyphs">Results from 1 campaign</text>
<circle cx="298.20" cy="463.20" r="3.70" fill="#1c2b33"/>
<rect x="297.61" y="462.64" width="1.18" height="2.59" fill="#fff"/>
<circle cx="298.20" cy="461.35" r="0.74" fill="#fff"/>
<text x="503.60" y="466.65" font-size="10.45" fill="#4b5a63" textLength="44.10" lengthAdjust="spacingAndGlyphs">$12,020.12</text>
<text x="509.00" y="479.07" font-size="8.2" fill="#8b9196" textLength="38.70" lengthAdjust="spacingAndGlyphs">Total Spent</text>
<text x="639.60" y="466.65" font-size="10.45" fill="#4b5a63" textLength="14.00" lengthAdjust="spacingAndGlyphs">180</text>
<text x="656.90" y="464.19" font-size="5.8" fill="#4b5a63" font-weight="bold" textLength="6.30" lengthAdjust="spacingAndGlyphs">[2]</text>
<text x="588.30" y="479.07" font-size="8.2" fill="#8b9196" textLength="65.30" lengthAdjust="spacingAndGlyphs">Website purchases</text>
<text x="744.00" y="466.65" font-size="10.45" fill="#4b5a63" textLength="27.00" lengthAdjust="spacingAndGlyphs">$66.78</text>
<line x1="744.00" y1="468.32" x2="771.00" y2="468.32" stroke="#4b5a63" stroke-width="0.68" opacity="0.72"/>
<text x="773.90" y="464.19" font-size="5.8" fill="#4b5a63" font-weight="bold" textLength="6.10" lengthAdjust="spacingAndGlyphs">[2]</text>
<text x="726.20" y="479.07" font-size="8.2" fill="#8b9196" textLength="44.80" lengthAdjust="spacingAndGlyphs">Per purchase</text>
<text x="873.50" y="466.65" font-size="10.45" fill="#4b5a63" textLength="17.20" lengthAdjust="spacingAndGlyphs">2.40</text>
<line x1="873.50" y1="468.32" x2="890.70" y2="468.32" stroke="#4b5a63" stroke-width="0.68" opacity="0.72"/>
<text x="893.10" y="464.19" font-size="5.8" fill="#4b5a63" font-weight="bold" textLength="6.40" lengthAdjust="spacingAndGlyphs">[2]</text>
<text x="862.20" y="479.07" font-size="8.2" fill="#8b9196" textLength="28.20" lengthAdjust="spacingAndGlyphs">Average</text>
</g></g>
</svg>
</body></html>
